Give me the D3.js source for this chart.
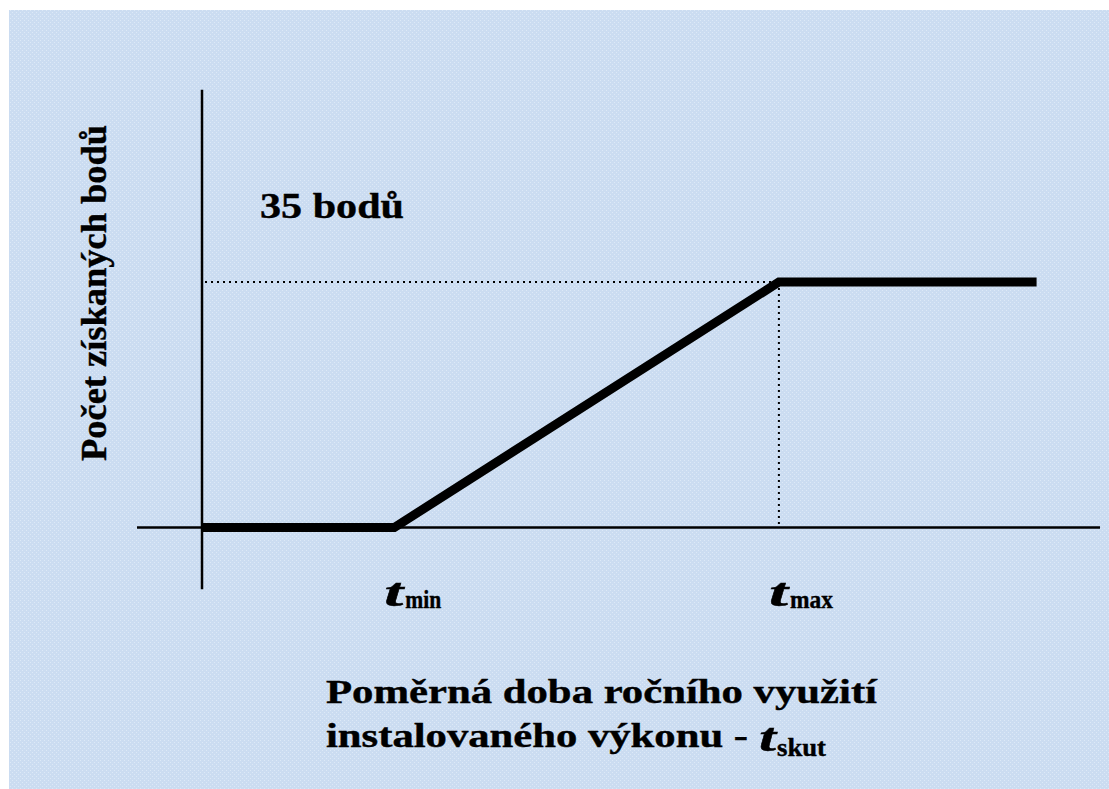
<!DOCTYPE html>
<html lang="cs">
<head>
<meta charset="utf-8">
<script src="https://d3js.org/d3.v7.min.js"></script>
<style>
  html, body { margin: 0; padding: 0; background: #fff; overflow: hidden; }
  svg { display: block; }
  text { font-family: "Liberation Serif", "Times New Roman", serif; font-weight: bold; fill: #000; stroke: #000; stroke-width: 0.4px; }
</style>
</head>
<body>
<svg width="1109" height="789"></svg>
<script>
// data: relative annual utilisation time (t) vs points gained
var xValues = [0, 1, 3, 4.34];      // origin, tmin, tmax, end of curve
var yValues = [0, 0, 35, 35];       // points
var tickLabels = [{ x: 1, sub: "min" }, { x: 3, sub: "max" }];
var maxPointsLabel = "35 bodů";
var yTitle = "Počet získaných bodů";
var xTitle1 = "Poměrná doba ročního využití";
var xTitle2 = "instalovaného výkonu -";

var svg = d3.select("svg");

// dotted blue background
var defs = svg.append("defs");
var pat = defs.append("pattern")
  .attr("id", "dots")
  .attr("width", 4).attr("height", 4)
  .attr("patternUnits", "userSpaceOnUse");
pat.append("rect").attr("width", 4).attr("height", 4).attr("fill", "#cbdcf1");
pat.append("rect").attr("x", 0).attr("y", 0).attr("width", 1).attr("height", 1).attr("fill", "#dde9f7");
pat.append("rect").attr("x", 2).attr("y", 2).attr("width", 1).attr("height", 1).attr("fill", "#dde9f7");

svg.append("rect")
  .attr("x", 9).attr("y", 10)
  .attr("width", 1100).attr("height", 779)
  .attr("fill", "url(#dots)");

var x = d3.scaleLinear().domain([0, 1]).range([202, 394.3]);
var y = d3.scaleLinear().domain([0, 35]).range([527.5, 282]);

// axes (plain lines, no ticks)
svg.append("line")
  .attr("x1", x(-0.338)).attr("x2", x(4.67))
  .attr("y1", y(0)).attr("y2", y(0))
  .attr("stroke", "#000").attr("stroke-width", 2.5);

svg.append("line")
  .attr("x1", x(0)).attr("x2", x(0))
  .attr("y1", y(62.4)).attr("y2", y(-8.8))
  .attr("stroke", "#000").attr("stroke-width", 2.5);

// dotted guides to tmax / 35 points
svg.append("line")
  .attr("x1", x(0) + 3).attr("x2", x(xValues[2]))
  .attr("y1", y(yValues[2])).attr("y2", y(yValues[2]))
  .attr("stroke", "#000").attr("stroke-width", 2)
  .attr("stroke-dasharray", "2,4");

svg.append("line")
  .attr("x1", x(xValues[2])).attr("x2", x(xValues[2]))
  .attr("y1", y(yValues[2])).attr("y2", y(0))
  .attr("stroke", "#000").attr("stroke-width", 2)
  .attr("stroke-dasharray", "2,4");

// the curve
var pts = xValues.map(function (d, i) { return [d, yValues[i]]; });
var line = d3.line()
  .x(function (d) { return x(d[0]); })
  .y(function (d) { return y(d[1]); });

svg.append("path")
  .attr("d", line(pts))
  .attr("fill", "none")
  .attr("stroke", "#000")
  .attr("stroke-width", 9)
  .attr("stroke-linejoin", "miter");

// tick labels t_min, t_max
tickLabels.forEach(function (t) {
  var px = x(t.x);
  svg.append("text")
    .attr("x", px - 10)
    .attr("y", 606)
    .style("font-style", "italic")
    .style("font-size", "40px")
    .attr("textLength", 19)
    .attr("lengthAdjust", "spacingAndGlyphs")
    .text("t");
  svg.append("text")
    .attr("x", px + 11)
    .attr("y", 608)
    .style("font-size", "25px")
    .attr("textLength", t.sub === "min" ? 36 : 43)
    .attr("lengthAdjust", "spacingAndGlyphs")
    .text(t.sub);
});

// 35 points label
svg.append("text")
  .attr("x", 260)
  .attr("y", 218)
  .style("font-size", "35px")
  .attr("textLength", 144)
  .attr("lengthAdjust", "spacingAndGlyphs")
  .text(maxPointsLabel);

// y title
svg.append("text")
  .attr("transform", "translate(106,293) rotate(-90)")
  .attr("x", -168)
  .style("font-size", "35px")
  .attr("textLength", 336)
  .attr("lengthAdjust", "spacingAndGlyphs")
  .text(yTitle);

// x title (two lines)
svg.append("text")
  .attr("x", 326)
  .attr("y", 703)
  .style("font-size", "33px")
  .attr("textLength", 551)
  .attr("lengthAdjust", "spacingAndGlyphs")
  .text(xTitle1);

svg.append("text")
  .attr("x", 326)
  .attr("y", 747)
  .style("font-size", "33px")
  .attr("textLength", 422)
  .attr("lengthAdjust", "spacingAndGlyphs")
  .text(xTitle2);

svg.append("text")
  .attr("x", 759)
  .attr("y", 751)
  .style("font-style", "italic")
  .style("font-size", "40px")
  .attr("textLength", 17)
  .attr("lengthAdjust", "spacingAndGlyphs")
  .text("t");

svg.append("text")
  .attr("x", 777)
  .attr("y", 756)
  .style("font-size", "25px")
  .attr("textLength", 49)
  .attr("lengthAdjust", "spacingAndGlyphs")
  .text("skut");
</script>
</body>
</html>
